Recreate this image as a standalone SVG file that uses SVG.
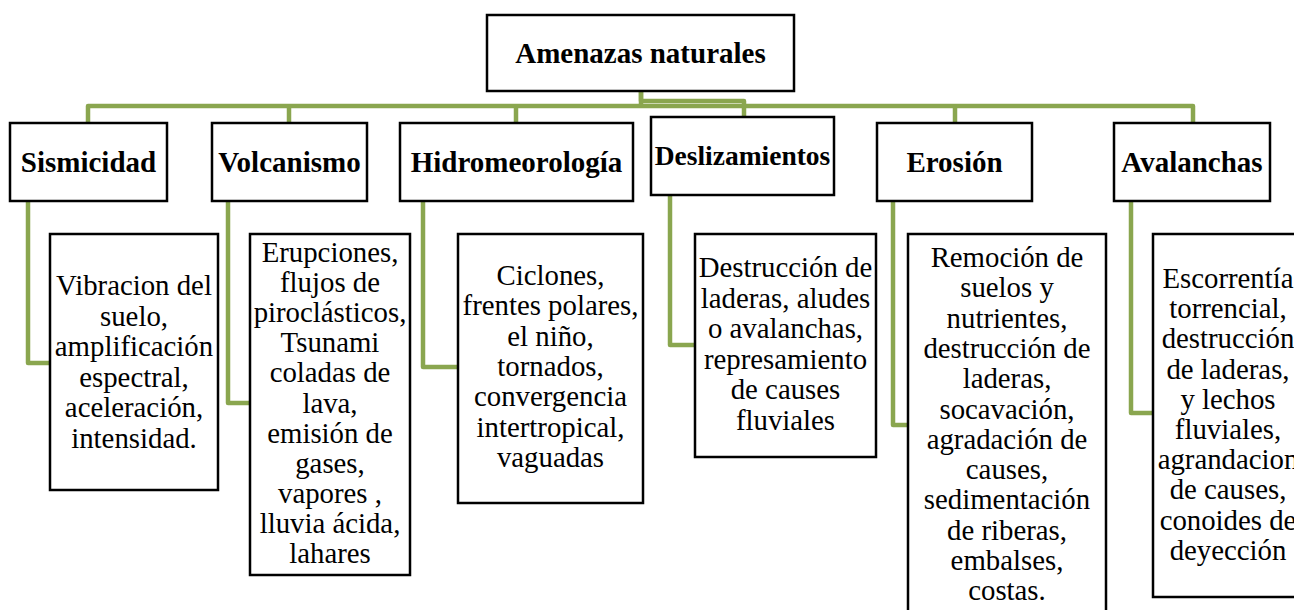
<svg xmlns="http://www.w3.org/2000/svg" width="1294" height="610" viewBox="0 0 1294 610">
<style>
.box{fill:#fff;stroke:#000;stroke-width:2.5}
.h{font-family:'Liberation Serif','Times New Roman',Times,serif;font-weight:bold;font-size:29px;text-anchor:middle;fill:#000}
.t{font-family:'Liberation Serif','Times New Roman',Times,serif;font-size:28.8px;text-anchor:middle;fill:#000}
.c{fill:none;stroke:#8aa64f;stroke-width:4.5;stroke-linejoin:round}
</style>
<rect width="1294" height="610" fill="#fff"/>
<g id="connectors">
<path class="c" d="M641,91 V106 M88,123 V106 H1193 V123 M289,106 V123 M516,106 V123 M955,106 V123"/>
<path class="c" d="M641,91 V101 H744 V117"/>
<path class="c" d="M28,201 V363 H50"/>
<path class="c" d="M228,201 V403 H250"/>
<path class="c" d="M423,201 V367 H458"/>
<path class="c" d="M670,195 V345 H695"/>
<path class="c" d="M893,201 V425 H908"/>
<path class="c" d="M1131,201 V413 H1153"/>
</g>
<g id="root"><rect class="box" x="487" y="15" width="307" height="76"/><text class="h" x="640.5" y="63">Amenazas naturales</text></g>
<g id="sismicidad"><rect class="box" x="10" y="123" width="157" height="78"/><text class="h" x="88.5" y="172">Sismicidad</text></g>
<g id="volcanismo"><rect class="box" x="212" y="123" width="155" height="78"/><text class="h" x="289.5" y="172">Volcanismo</text></g>
<g id="hidro"><rect class="box" x="400" y="123" width="233" height="78"/><text class="h" x="516.5" y="172">Hidromeorología</text></g>
<g id="deslizamientos"><rect class="box" x="651" y="117" width="183" height="78"/><text class="h" x="742.5" y="165" style="font-size:27.5px">Deslizamientos</text></g>
<g id="erosion"><rect class="box" x="877" y="123" width="155" height="78"/><text class="h" x="954.5" y="172">Erosión</text></g>
<g id="avalanchas"><rect class="box" x="1114" y="123" width="156" height="78"/><text class="h" x="1192" y="172">Avalanchas</text></g>
<g id="sismicidad-detalle"><rect class="box" x="50" y="234" width="168" height="256"/>
<text class="t" y="295"><tspan x="134">Vibracion del</tspan><tspan x="134" dy="30.5">suelo,</tspan><tspan x="134" dy="30.5">amplificación</tspan><tspan x="134" dy="30.5">espectral,</tspan><tspan x="134" dy="30.5">aceleración,</tspan><tspan x="134" dy="30.5">intensidad.</tspan></text></g>
<g id="volcanismo-detalle"><rect class="box" x="250" y="234" width="160" height="341"/>
<text class="t" y="262"><tspan x="330">Erupciones,</tspan><tspan x="330" dy="30.1">flujos de</tspan><tspan x="330" dy="30.1">piroclásticos,</tspan><tspan x="330" dy="30.1">Tsunami</tspan><tspan x="330" dy="30.1">coladas de</tspan><tspan x="330" dy="30.1">lava,</tspan><tspan x="330" dy="30.1">emisión de</tspan><tspan x="330" dy="30.1">gases,</tspan><tspan x="330" dy="30.1">vapores ,</tspan><tspan x="330" dy="30.1">lluvia ácida,</tspan><tspan x="330" dy="30.1">lahares</tspan></text></g>
<g id="hidro-detalle"><rect class="box" x="458" y="234" width="185" height="269"/>
<text class="t" y="285"><tspan x="550.5">Ciclones,</tspan><tspan x="550.5" dy="30.3">frentes polares,</tspan><tspan x="550.5" dy="30.3">el niño,</tspan><tspan x="550.5" dy="30.3">tornados,</tspan><tspan x="550.5" dy="30.3">convergencia</tspan><tspan x="550.5" dy="30.3">intertropical,</tspan><tspan x="550.5" dy="30.3">vaguadas</tspan></text></g>
<g id="deslizamientos-detalle"><rect class="box" x="695" y="234" width="181" height="223"/>
<text class="t" y="277"><tspan x="785.5">Destrucción de</tspan><tspan x="785.5" dy="30.6">laderas, aludes</tspan><tspan x="785.5" dy="30.6">o avalanchas,</tspan><tspan x="785.5" dy="30.6">represamiento</tspan><tspan x="785.5" dy="30.6">de causes</tspan><tspan x="785.5" dy="30.6">fluviales</tspan></text></g>
<g id="erosion-detalle"><rect class="box" x="908" y="234" width="198" height="390"/>
<text class="t" y="267"><tspan x="1007">Remoción de</tspan><tspan x="1007" dy="30.3">suelos y</tspan><tspan x="1007" dy="30.3">nutrientes,</tspan><tspan x="1007" dy="30.3">destrucción de</tspan><tspan x="1007" dy="30.3">laderas,</tspan><tspan x="1007" dy="30.3">socavación,</tspan><tspan x="1007" dy="30.3">agradación de</tspan><tspan x="1007" dy="30.3">causes,</tspan><tspan x="1007" dy="30.3">sedimentación</tspan><tspan x="1007" dy="30.3">de riberas,</tspan><tspan x="1007" dy="30.3">embalses,</tspan><tspan x="1007" dy="30.3">costas.</tspan></text></g>
<g id="avalanchas-detalle"><rect class="box" x="1153" y="234" width="150" height="363"/>
<text class="t" y="288"><tspan x="1228">Escorrentía</tspan><tspan x="1228" dy="30.2">torrencial,</tspan><tspan x="1228" dy="30.2">destrucción</tspan><tspan x="1228" dy="30.2">de laderas,</tspan><tspan x="1228" dy="30.2">y lechos</tspan><tspan x="1228" dy="30.2">fluviales,</tspan><tspan x="1228" dy="30.2">agrandacion</tspan><tspan x="1228" dy="30.2">de causes,</tspan><tspan x="1228" dy="30.2">conoides de</tspan><tspan x="1228" dy="30.2">deyección</tspan></text></g>
</svg>
